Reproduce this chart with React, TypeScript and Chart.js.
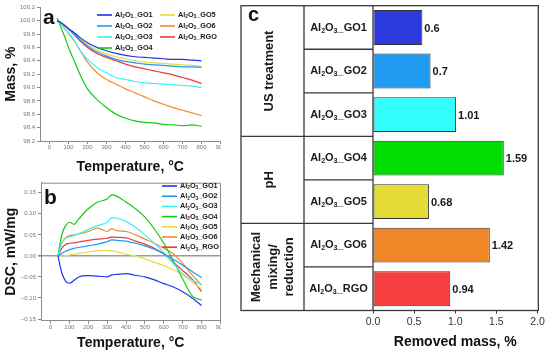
import React, { useEffect, useRef } from 'react';
import { Chart, registerables } from 'chart.js';
Chart.register(...registerables);

const FONT = "'Liberation Sans', Arial, Helvetica, sans-serif";

// ---------- data ----------
const SERIES_NAMES = ['GO1', 'GO2', 'GO3', 'GO4', 'GO5', 'GO6', 'RGO'];
const LINE_COLORS = ['#2233ee', '#2299ee', '#38f4f4', '#11cc11', '#e8dc40', '#f08c30', '#ee3a3a'];

// Panel a: mass (%) vs temperature (°C)
const TEMP_A = [40, 60, 80, 100, 130, 160, 200, 250, 300, 350, 400, 450, 500, 550, 600, 650, 700, 750, 800];
const MASS_GO1 = [100.0, 99.97, 99.93, 99.88, 99.82, 99.75, 99.67, 99.6, 99.55, 99.51, 99.48, 99.46, 99.45, 99.44, 99.43, 99.42, 99.42, 99.41, 99.4];
const MASS_GO2 = [100.0, 99.97, 99.93, 99.88, 99.8, 99.72, 99.62, 99.53, 99.47, 99.42, 99.39, 99.37, 99.35, 99.34, 99.33, 99.32, 99.31, 99.31, 99.3];
const MASS_GO3 = [100.0, 99.95, 99.88, 99.82, 99.71, 99.56, 99.42, 99.3, 99.22, 99.15, 99.12, 99.09, 99.07, 99.06, 99.05, 99.04, 99.03, 99.02, 99.0];
const MASS_GO4 = [100.04, 99.9, 99.76, 99.6, 99.4, 99.2, 98.98, 98.82, 98.7, 98.6, 98.54, 98.5, 98.48, 98.47, 98.45, 98.44, 98.43, 98.44, 98.42];
const MASS_GO5 = [100.0, 99.97, 99.93, 99.88, 99.81, 99.73, 99.64, 99.56, 99.5, 99.46, 99.43, 99.4, 99.38, 99.37, 99.36, 99.35, 99.34, 99.33, 99.32];
const MASS_GO6 = [100.0, 99.95, 99.88, 99.81, 99.7, 99.56, 99.38, 99.22, 99.12, 99.05, 98.98, 98.92, 98.86, 98.8, 98.75, 98.7, 98.66, 98.62, 98.58];
const MASS_RGO = [100.0, 99.97, 99.92, 99.87, 99.79, 99.7, 99.6, 99.51, 99.45, 99.4, 99.35, 99.31, 99.28, 99.25, 99.22, 99.19, 99.15, 99.11, 99.06];
const MASS_SERIES = [MASS_GO1, MASS_GO2, MASS_GO3, MASS_GO4, MASS_GO5, MASS_GO6, MASS_RGO];

// Panel b: DSC (mW/mg) vs temperature (°C)
const TEMP_B = [40, 60, 80, 100, 125, 150, 200, 250, 300, 325, 350, 400, 450, 500, 550, 600, 650, 700, 750, 800];
const DSC_GO1 = [0, -0.04, -0.06, -0.065, -0.058, -0.05, -0.047, -0.048, -0.05, -0.045, -0.044, -0.042, -0.046, -0.05, -0.057, -0.066, -0.074, -0.085, -0.1, -0.118];
const DSC_GO2 = [0, 0.006, 0.011, 0.015, 0.018, 0.02, 0.024, 0.028, 0.034, 0.038, 0.037, 0.035, 0.03, 0.024, 0.016, 0.005, -0.008, -0.022, -0.037, -0.052];
const DSC_GO3 = [0, 0.03, 0.042, 0.045, 0.048, 0.053, 0.063, 0.072, 0.08, 0.091, 0.09, 0.082, 0.068, 0.05, 0.03, 0.008, -0.018, -0.042, -0.058, -0.068];
const DSC_GO4 = [0, 0.05, 0.072, 0.08, 0.075, 0.088, 0.112, 0.128, 0.135, 0.145, 0.142, 0.128, 0.112, 0.092, 0.064, 0.03, -0.012, -0.055, -0.095, -0.105];
const DSC_GO5 = [0, 0.0, 0.001, 0.002, 0.004, 0.006, 0.009, 0.012, 0.013, 0.012, 0.01, 0.004, 0.0, -0.007, -0.015, -0.023, -0.033, -0.045, -0.062, -0.078];
const DSC_GO6 = [0, 0.03, 0.043, 0.048, 0.05, 0.052, 0.058, 0.066, 0.058, 0.065, 0.06, 0.058, 0.05, 0.04, 0.03, 0.018, 0.005, -0.018, -0.045, -0.07];
const DSC_RGO = [0, 0.018, 0.027, 0.03, 0.031, 0.033, 0.037, 0.04, 0.042, 0.045, 0.044, 0.043, 0.035, 0.028, 0.018, 0.005, -0.015, -0.035, -0.055, -0.085];
const DSC_SERIES = [DSC_GO1, DSC_GO2, DSC_GO3, DSC_GO4, DSC_GO5, DSC_GO6, DSC_RGO];

const TEMP_TICKS = [0, 100, 200, 300, 400, 500, 600, 700, 800, 900];
const MASS_TICKS = [98.2, 98.4, 98.6, 98.8, 99.0, 99.2, 99.4, 99.6, 99.8, 100.0, 100.2];
const DSC_TICKS = [-0.15, -0.1, -0.05, 0, 0.05, 0.1, 0.15];

// Panel c: removed mass (%)
const BAR_SAMPLES = ['GO1', 'GO2', 'GO3', 'GO4', 'GO5', 'GO6', 'RGO'];
const REMOVED_MASS = [0.6, 0.7, 1.01, 1.59, 0.68, 1.42, 0.94];
const BAR_COLORS = ['#2b3be0', '#1f9cf0', '#33ffff', '#00dd00', '#e4dc34', '#f08628', '#f53f3f'];
const GROUP_LABELS = [['US treatment'], ['pH'], ['Mechanical', 'mixing/', 'reduction']];
const GROUP_ROWS = [[0, 2], [3, 4], [5, 6]];
const REMOVED_TICKS = [0, 0.5, 1.0, 1.5, 2.0];

// ---------- helpers ----------
function drawFormula(ctx: CanvasRenderingContext2D, x: number, y: number, suffix: string, size: number, align: 'left' | 'center', color = '#1a1a1a') {
  const big = `bold ${size}px ${FONT}`;
  const small = `bold ${size * 0.64}px ${FONT}`;
  const parts: [string, boolean][] = [['Al', false], ['2', true], ['O', false], ['3', true], ['_' + suffix, false]];
  let total = 0;
  const widths = parts.map(([t, sub]) => {
    ctx.font = sub ? small : big;
    const w = ctx.measureText(t).width;
    total += w;
    return w;
  });
  let cx = align === 'center' ? x - total / 2 : x;
  ctx.save();
  ctx.fillStyle = color;
  ctx.textAlign = 'left';
  ctx.textBaseline = 'middle';
  parts.forEach(([t, sub], i) => {
    ctx.font = sub ? small : big;
    ctx.fillText(t, cx, sub ? y + size * 0.3 : y);
    cx += widths[i];
  });
  ctx.restore();
}

function panelLetter(letter: string, x: number, y: number, size: number) {
  return {
    id: 'letter' + letter,
    afterDraw(chart: any) {
      const ctx = chart.ctx;
      ctx.save();
      ctx.font = `bold ${size}px ${FONT}`;
      ctx.fillStyle = '#111';
      ctx.textAlign = 'left';
      ctx.textBaseline = 'alphabetic';
      ctx.fillText(letter, x, y);
      ctx.restore();
    },
  };
}

const tickFont = { family: FONT, size: 6 };
const titleFont = { family: FONT, size: 14, weight: 'bold' as const };
const AXIS_GRAY = '#8a8a8a';

function lineScales(yMin: number, yMax: number, yTicks: number[], yTitle: string, yWidth: number, xHeight: number, yFmt: (v: number) => string) {
  return {
    x: {
      type: 'linear',
      min: -50,
      max: 900,
      afterBuildTicks: (s: any) => { s.ticks = TEMP_TICKS.map((v) => ({ value: v })); },
      afterFit: (s: any) => { s.height = xHeight; s.paddingLeft = 0; s.paddingRight = 0; },
      ticks: { font: tickFont, color: '#777', padding: 0, maxRotation: 0, autoSkip: false, callback: (v: any) => String(v) },
      grid: { drawOnChartArea: false, drawTicks: true, tickLength: 3, color: AXIS_GRAY },
      border: { color: AXIS_GRAY, width: 1 },
      title: { display: true, text: 'Temperature, °C', font: titleFont, color: '#111', padding: { top: 0, bottom: 2 } },
    },
    y: {
      type: 'linear',
      min: yMin,
      max: yMax,
      afterBuildTicks: (s: any) => { s.ticks = yTicks.map((v) => ({ value: v })); },
      afterFit: (s: any) => { s.width = yWidth; s.paddingTop = 0; s.paddingBottom = 0; },
      ticks: { font: tickFont, color: '#777', padding: 2, autoSkip: false, callback: (v: any) => yFmt(Number(v)) },
      grid: { drawOnChartArea: false, drawTicks: true, tickLength: 3, color: AXIS_GRAY },
      border: { color: AXIS_GRAY, width: 1 },
      title: { display: true, text: yTitle, font: titleFont, color: '#111', padding: { top: 3, bottom: 0 } },
    },
  };
}

export default function App() {
  const refA = useRef<HTMLCanvasElement>(null);
  const refB = useRef<HTMLCanvasElement>(null);
  const refC = useRef<HTMLCanvasElement>(null);

  useEffect(() => {
    const charts: Chart[] = [];

    // ----- panel a -----
    const legendA = {
      id: 'legendA',
      afterDraw(chart: any) {
        const ctx = chart.ctx;
        SERIES_NAMES.forEach((name, i) => {
          const col = i < 4 ? 0 : 1;
          const row = i < 4 ? i : i - 4;
          const x0 = col === 0 ? 97 : 160;
          const y = 15 + row * 11;
          ctx.save();
          ctx.strokeStyle = LINE_COLORS[i];
          ctx.lineWidth = 1.6;
          ctx.beginPath();
          ctx.moveTo(x0, y);
          ctx.lineTo(x0 + 15, y);
          ctx.stroke();
          ctx.restore();
          drawFormula(ctx, x0 + 18, y, name, 7.3, 'left');
        });
      },
    };
    charts.push(new Chart(refA.current!, {
      type: 'line',
      data: {
        datasets: SERIES_NAMES.map((name, i) => ({
          label: 'Al2O3_' + name,
          data: TEMP_A.map((t, j) => ({ x: t, y: MASS_SERIES[i][j] })),
          borderColor: LINE_COLORS[i],
          borderWidth: 1.2,
          pointRadius: 0,
          fill: false,
          cubicInterpolationMode: 'monotone',
        })),
      },
      options: {
        responsive: false,
        animation: false,
        layout: { padding: { top: 7.3, left: 0, right: 0.5, bottom: 0 } },
        plugins: { legend: { display: false }, tooltip: { enabled: false } },
        scales: lineScales(98.2, 100.2, MASS_TICKS, 'Mass, %', 40, 37, (v) => v.toFixed(1)) as any,
      },
      plugins: [legendA, panelLetter('a', 43, 24, 21)],
    } as any));

    // ----- panel b -----
    const legendB = {
      id: 'legendB',
      afterDraw(chart: any) {
        const ctx = chart.ctx;
        SERIES_NAMES.forEach((name, i) => {
          const y = 8 + i * 10.2;
          ctx.save();
          ctx.strokeStyle = LINE_COLORS[i];
          ctx.lineWidth = 1.6;
          ctx.beginPath();
          ctx.moveTo(162, y);
          ctx.lineTo(177, y);
          ctx.stroke();
          ctx.restore();
          drawFormula(ctx, 180, y, name, 7.3, 'left');
        });
      },
    };
    const frameB = {
      id: 'frameB',
      afterDraw(chart: any) {
        const { left, right, top, bottom } = chart.chartArea;
        const ctx = chart.ctx;
        ctx.save();
        ctx.strokeStyle = AXIS_GRAY;
        ctx.lineWidth = 1;
        ctx.beginPath();
        ctx.moveTo(left, top + 0.5);
        ctx.lineTo(right, top + 0.5);
        ctx.lineTo(right, bottom);
        ctx.stroke();
        ctx.restore();
      },
    };
    const scalesB: any = lineScales(-0.154, 0.174, DSC_TICKS, 'DSC, mW/mg', 41, 33.3, (v) => (v < 0 ? '\u2212' : '') + Math.abs(v).toFixed(2));
    scalesB.y.grid = {
      drawOnChartArea: true,
      drawTicks: true,
      tickLength: 3,
      tickColor: AXIS_GRAY,
      color: (c: any) => (c.tick && c.tick.value === 0 ? '#9a9a9a' : 'rgba(0,0,0,0)'),
      lineWidth: (c: any) => (c.tick && c.tick.value === 0 ? 1.6 : 1),
    };
    charts.push(new Chart(refB.current!, {
      type: 'line',
      data: {
        datasets: SERIES_NAMES.map((name, i) => ({
          label: 'Al2O3_' + name,
          data: TEMP_B.map((t, j) => ({ x: t, y: DSC_SERIES[i][j] })),
          borderColor: LINE_COLORS[i],
          borderWidth: 1.2,
          pointRadius: 0,
          fill: false,
          cubicInterpolationMode: 'monotone',
        })),
      },
      options: {
        responsive: false,
        animation: false,
        layout: { padding: { top: 4.7, left: 0, right: 0.5, bottom: 0 } },
        plugins: { legend: { display: false }, tooltip: { enabled: false } },
        scales: scalesB,
      },
      plugins: [frameB, legendB, panelLetter('b', 44, 26, 21)],
    } as any));

    // ----- panel c -----
    const tableC = {
      id: 'tableC',
      afterDraw(chart: any) {
        const ctx = chart.ctx;
        const { left, right, top, bottom } = chart.chartArea;
        const frameL = 19;
        const col2 = 82;
        const n = BAR_SAMPLES.length;
        const rowH = (bottom - top) / n;
        ctx.save();
        ctx.strokeStyle = '#3a3a3a';
        ctx.lineWidth = 1.3;
        ctx.strokeRect(frameL, top, right + 0.8 - frameL, bottom - top);
        ctx.beginPath();
        ctx.moveTo(col2, top); ctx.lineTo(col2, bottom);
        ctx.moveTo(left, top); ctx.lineTo(left, bottom);
        for (let i = 1; i < n; i++) {
          const y = top + i * rowH;
          const isGroupEnd = GROUP_ROWS.some((g) => g[1] === i - 1);
          ctx.moveTo(isGroupEnd ? frameL : col2, y);
          ctx.lineTo(left, y);
        }
        ctx.stroke();
        ctx.restore();

        // sample labels
        BAR_SAMPLES.forEach((name, i) => {
          drawFormula(ctx, (col2 + left) / 2, top + (i + 0.5) * rowH, name, 11, 'center');
        });

        // group labels (rotated)
        GROUP_LABELS.forEach((lines, gi) => {
          const [r0, r1] = GROUP_ROWS[gi];
          const cy = top + ((r0 + r1 + 1) / 2) * rowH;
          const cx = lines.length === 1 ? 47 : 51;
          const lh = 16.3;
          ctx.save();
          ctx.translate(cx, cy);
          ctx.rotate(-Math.PI / 2);
          ctx.font = `bold 13px ${FONT}`;
          ctx.fillStyle = '#1a1a1a';
          ctx.textAlign = 'center';
          ctx.textBaseline = 'middle';
          lines.forEach((t, k) => {
            ctx.fillText(t, 0, (k - (lines.length - 1) / 2) * lh);
          });
          ctx.restore();
        });

        // value labels
        const meta = chart.getDatasetMeta(0);
        ctx.save();
        ctx.font = `bold 11px ${FONT}`;
        ctx.fillStyle = '#1a1a1a';
        ctx.textAlign = 'left';
        ctx.textBaseline = 'middle';
        meta.data.forEach((bar: any, i: number) => {
          ctx.fillText(String(REMOVED_MASS[i]), bar.x + 2, bar.y + 1);
        });
        ctx.restore();
      },
    };
    charts.push(new Chart(refC.current!, {
      type: 'bar',
      data: {
        labels: BAR_SAMPLES.map((s) => 'Al2O3_' + s),
        datasets: [{
          data: REMOVED_MASS,
          backgroundColor: BAR_COLORS,
          borderColor: '#333',
          borderWidth: 1,
          borderSkipped: false,
          categoryPercentage: 1,
          barPercentage: 0.8,
        }],
      },
      options: {
        indexAxis: 'y',
        responsive: false,
        animation: false,
        layout: { padding: { top: 5.7, left: 0, right: 12.5, bottom: 0 } },
        plugins: { legend: { display: false }, tooltip: { enabled: false } },
        scales: {
          x: {
            type: 'linear',
            min: 0,
            max: 2,
            afterBuildTicks: (s: any) => { s.ticks = REMOVED_TICKS.map((v) => ({ value: v })); },
            afterFit: (s: any) => { s.height = 43.5; s.paddingLeft = 0; s.paddingRight = 0; },
            ticks: { font: { family: FONT, size: 10.5 }, color: '#333', padding: 2, maxRotation: 0, autoSkip: false, callback: (v: any) => Number(v).toFixed(1) },
            grid: { drawOnChartArea: false, drawTicks: true, tickLength: 3, color: '#333' },
            border: { display: false },
            title: { display: true, text: 'Removed mass, %', font: titleFont, color: '#111', padding: { top: 0, bottom: 3.9 } },
          },
          y: {
            type: 'category',
            afterFit: (s: any) => { s.width = 151; s.paddingTop = 0; s.paddingBottom = 0; },
            ticks: { display: false },
            grid: { display: false },
            border: { display: false },
          },
        },
      },
      plugins: [tableC, panelLetter('c', 26, 21, 20)],
    } as any));

    return () => charts.forEach((c) => c.destroy());
  }, []);

  return (
    <div style={{ position: 'fixed', left: 0, top: 0, width: 550, height: 354, background: '#fff', overflow: 'hidden' }}>
      <canvas ref={refA} width={221} height={178} style={{ position: 'absolute', left: 0, top: 0, width: 221, height: 178 }} />
      <canvas ref={refB} width={221} height={176} style={{ position: 'absolute', left: 0, top: 178, width: 221, height: 176 }} />
      <canvas ref={refC} width={328} height={354} style={{ position: 'absolute', left: 222, top: 0, width: 328, height: 354 }} />
    </div>
  );
}
